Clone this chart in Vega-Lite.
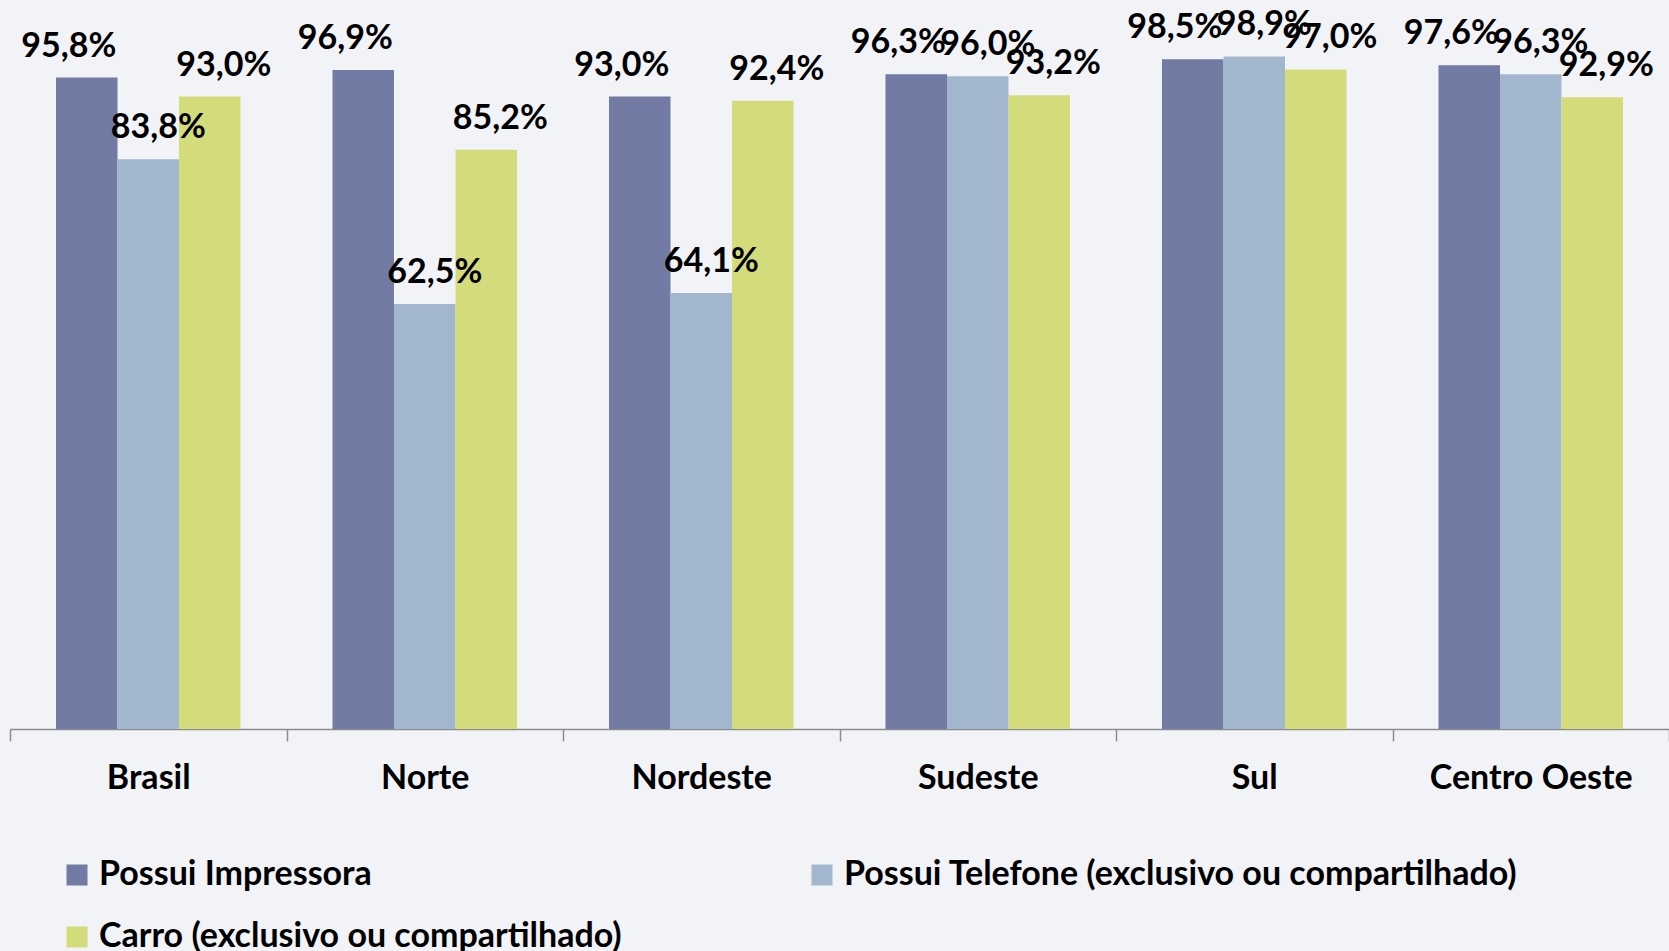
{
  "$schema": "https://vega.github.io/schema/vega-lite/v6.json",
  "autosize": {"type": "none"},
  "padding": {"left": 10, "top": 49, "right": 0, "bottom": 222},
  "width": 1659,
  "height": 680,
  "background": "#f2f3f6",
  "config": {
    "view": {"stroke": null},
    "locale": {"number": {"decimal": ",", "thousands": ".", "grouping": [3], "currency": ["", "%"]}}
  },
  "data": {
    "values": [
      {"region": "Brasil", "series": "Possui Impressora", "value": 95.8},
      {"region": "Brasil", "series": "Possui Telefone (exclusivo ou compartilhado)", "value": 83.8},
      {"region": "Brasil", "series": "Carro (exclusivo ou compartilhado)", "value": 93.0},
      {"region": "Norte", "series": "Possui Impressora", "value": 96.9},
      {"region": "Norte", "series": "Possui Telefone (exclusivo ou compartilhado)", "value": 62.5},
      {"region": "Norte", "series": "Carro (exclusivo ou compartilhado)", "value": 85.2},
      {"region": "Nordeste", "series": "Possui Impressora", "value": 93.0},
      {"region": "Nordeste", "series": "Possui Telefone (exclusivo ou compartilhado)", "value": 64.1},
      {"region": "Nordeste", "series": "Carro (exclusivo ou compartilhado)", "value": 92.4},
      {"region": "Sudeste", "series": "Possui Impressora", "value": 96.3},
      {"region": "Sudeste", "series": "Possui Telefone (exclusivo ou compartilhado)", "value": 96.0},
      {"region": "Sudeste", "series": "Carro (exclusivo ou compartilhado)", "value": 93.2},
      {"region": "Sul", "series": "Possui Impressora", "value": 98.5},
      {"region": "Sul", "series": "Possui Telefone (exclusivo ou compartilhado)", "value": 98.9},
      {"region": "Sul", "series": "Carro (exclusivo ou compartilhado)", "value": 97.0},
      {"region": "Centro Oeste", "series": "Possui Impressora", "value": 97.6},
      {"region": "Centro Oeste", "series": "Possui Telefone (exclusivo ou compartilhado)", "value": 96.3},
      {"region": "Centro Oeste", "series": "Carro (exclusivo ou compartilhado)", "value": 92.9}
    ]
  },
  "encoding": {
    "x": {
      "field": "region", "type": "nominal", "sort": null,
      "scale": {"paddingInner": 0, "paddingOuter": 0},
      "axis": {
        "title": null, "grid": false,
        "domainColor": "#8c8c8c", "domainWidth": 1.5,
        "tickColor": "#8c8c8c", "tickWidth": 1.5, "tickSize": 12, "tickBand": "extent",
        "labelFont": "Lato", "labelFontWeight": "bold", "labelFontSize": 34, "labelColor": "#000000",
        "labelBaseline": "alphabetic", "labelPadding": 47, "labelAngle": 0, "labelLimit": 400
      }
    },
    "xOffset": {
      "field": "series", "type": "nominal",
      "sort": ["Possui Impressora", "Possui Telefone (exclusivo ou compartilhado)", "Carro (exclusivo ou compartilhado)"],
      "scale": {"paddingInner": 0, "paddingOuter": 0.748}
    },
    "y": {
      "field": "value", "type": "quantitative",
      "scale": {"domain": [0, 100], "nice": false, "zero": true},
      "axis": null
    }
  },
  "layer": [
    {
      "mark": {"type": "bar"},
      "encoding": {
        "color": {
          "field": "series", "type": "nominal",
          "scale": {
            "domain": ["Possui Impressora", "Possui Telefone (exclusivo ou compartilhado)", "Carro (exclusivo ou compartilhado)"],
            "range": ["#717ba3", "#a2b7ce", "#d4db7b"]
          },
          "legend": {
            "title": null, "orient": "none", "legendX": 50, "legendY": 809,
            "direction": "horizontal", "columns": 2, "columnPadding": 183, "rowPadding": 28,
            "padding": 0,
            "symbolType": "square", "symbolSize": 441, "symbolStrokeWidth": 0, "symbolOpacity": 1,
            "labelFont": "Lato", "labelFontWeight": "bold", "labelFontSize": 34, "labelColor": "#000000",
            "labelOffset": 5, "labelLimit": 1000
          }
        }
      }
    },
    {
      "transform": [{"filter": "datum.series === 'Possui Impressora'"}],
      "mark": {"type": "text", "font": "Lato", "fontWeight": "bold", "fontSize": 34, "color": "#000000", "baseline": "alphabetic", "dy": -21, "dx": -18},
      "encoding": {"text": {"field": "value", "type": "quantitative", "format": "$.1f"}}
    },
    {
      "transform": [{"filter": "datum.series === 'Possui Telefone (exclusivo ou compartilhado)'"}],
      "mark": {"type": "text", "font": "Lato", "fontWeight": "bold", "fontSize": 34, "color": "#000000", "baseline": "alphabetic", "dy": -21, "dx": 10},
      "encoding": {"text": {"field": "value", "type": "quantitative", "format": "$.1f"}}
    },
    {
      "transform": [{"filter": "datum.series === 'Carro (exclusivo ou compartilhado)'"}],
      "mark": {"type": "text", "font": "Lato", "fontWeight": "bold", "fontSize": 34, "color": "#000000", "baseline": "alphabetic", "dy": -21, "dx": 14},
      "encoding": {"text": {"field": "value", "type": "quantitative", "format": "$.1f"}}
    }
  ]
}
